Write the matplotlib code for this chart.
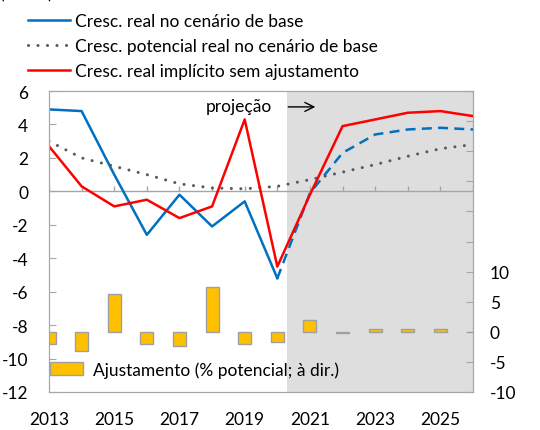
import matplotlib
matplotlib.use("Agg")
import matplotlib.pyplot as plt
from matplotlib.lines import Line2D
from matplotlib.patches import Patch

plt.rcParams['font.family'] = ['Lato', 'DejaVu Sans']
plt.rcParams['axes.unicode_minus'] = False

# anos e séries (% a/a)
anos = list(range(2013, 2027))
cresc_real = [4.9, 4.8, 1.0, -2.6, -0.2, -2.1, -0.6, -5.2,
              -0.1, 2.3, 3.4, 3.7, 3.8, 3.7]
cresc_potencial = [3.0, 2.0, 1.5, 1.0, 0.45, 0.2, 0.15, 0.3,
                   0.7, 1.15, 1.6, 2.1, 2.55, 2.8]
cresc_sem_ajust = [2.7, 0.3, -0.9, -0.5, -1.6, -0.9, 4.3, -4.5,
                   -0.2, 3.9, 4.3, 4.7, 4.8, 4.5]
ajustamento = [-2.1, -3.2, 6.2, -2.1, -2.4, 7.4, -2.0, -1.7,
               2.0, -0.2, 0.4, 0.4, 0.4, -0.1]
ultimo_obs = 2020

azul = '#0070C0'
vermelho = '#FF0000'
cinza_pot = '#595959'
amarelo = '#FFC000'
cinza_eixo = '#A6A6A6'

fig = plt.figure(figsize=(5.4, 4.31), dpi=100)
ax = fig.add_axes([0.0907, 0.0882, 0.7853, 0.6983])
ax2 = ax.twinx()

# período de projeção
ax.axvspan(2020.3, 2026, color='#DEDEDE', zorder=0, lw=0)

# linha do zero com marcas anuais
ax.axhline(0, color=cinza_eixo, lw=1, zorder=1)
ax.vlines(anos, 0, 0.3, color=cinza_eixo, lw=1, zorder=1)

i0 = anos.index(ultimo_obs)
ax.plot(anos[:i0 + 1], cresc_real[:i0 + 1], color=azul, lw=1.8, zorder=3)
ax.plot(anos[i0:], cresc_real[i0:], color=azul, lw=1.8,
        linestyle=(0, (4, 2.5)), zorder=3)
ax.plot(anos, cresc_potencial, color=cinza_pot, lw=2.2,
        linestyle=(0, (0.01, 3.1)), dash_capstyle='round', zorder=3)
ax.plot(anos, cresc_sem_ajust, color=vermelho, lw=1.8, zorder=4)

ax.set_xlim(2013, 2026)
ax.set_ylim(-12, 6)
ax.set_yticks(range(-12, 7, 2))
ax.set_xticks(range(2013, 2026, 2))
ax.tick_params(axis='x', length=0, pad=14, labelsize=12.5)
ax.tick_params(axis='y', direction='in', length=5, color=cinza_eixo,
               pad=15, labelsize=12.5)
for s in ax.spines.values():
    s.set_color(cinza_eixo)

# ajustamento, eixo da direita
ax2.bar(anos, ajustamento, width=0.4, color=amarelo, edgecolor='#A0A0A0',
        lw=1, zorder=2)
ax2.set_ylim(-10, 40)
ax2.set_yticks(range(-10, 41, 5))
ax2.set_yticklabels([str(v) if v <= 10 else '' for v in range(-10, 41, 5)])
ax2.tick_params(axis='y', direction='in', length=5, color=cinza_eixo,
                pad=12, labelsize=12.5)
for s in ax2.spines.values():
    s.set_color(cinza_eixo)

ax2.legend(handles=[Patch(facecolor=amarelo, edgecolor='#A0A0A0', lw=1)],
           labels=['Ajustamento (% potencial; à dir.)'],
           loc='lower left', bbox_to_anchor=(-0.035, -0.005), frameon=False,
           handlelength=1.9, handleheight=0.75, handletextpad=0.6,
           fontsize=12.5)

ax.annotate('', xy=(2021.25, 5.05), xytext=(2020.25, 5.05),
            arrowprops=dict(arrowstyle='->', color='black', lw=1,
                            mutation_scale=16))
ax.text(2019.85, 5.1, 'projeção', ha='right', va='center', fontsize=12.5)

handles = [Line2D([], [], color=azul, lw=1.8),
           Line2D([], [], color=cinza_pot, lw=2.2, linestyle=(0, (0.01, 3.1)),
                  dash_capstyle='round'),
           Line2D([], [], color=vermelho, lw=1.8)]
labels = ['Cresc. real no cenário de base',
          'Cresc. potencial real no cenário de base',
          'Cresc. real implícito sem ajustamento']
fig.legend(handles, labels, loc='upper left', bbox_to_anchor=(0.03, 0.996),
           frameon=False, handlelength=2.4, handletextpad=0.3,
           labelspacing=0.52, fontsize=12.5, borderaxespad=0.3)

fig.text(0.0, 1.012, '(% a/a)', ha='left', va='center', fontsize=12.5)

fig.savefig('out.png', dpi=100)
